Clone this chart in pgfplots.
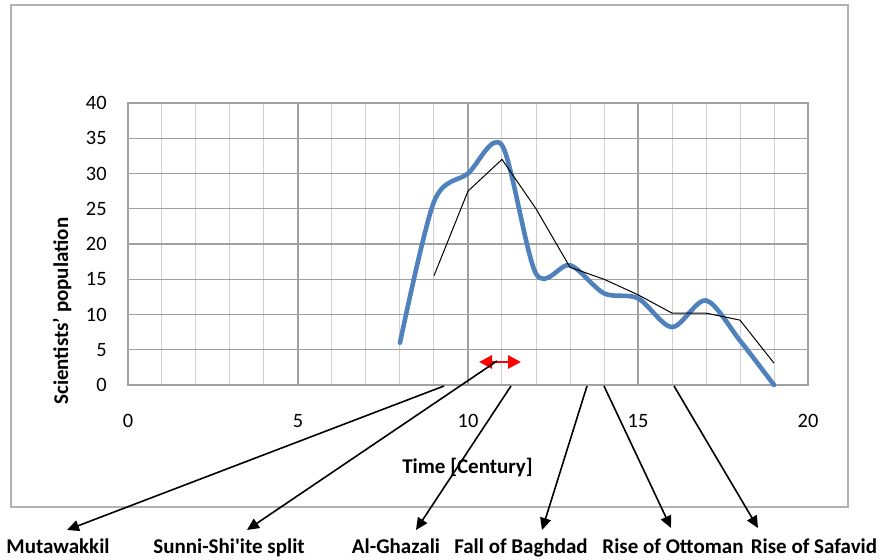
\documentclass[border=0pt]{standalone}
\usepackage{fontspec}
\setmainfont{Carlito}
\usepackage{pgfplots}
\pgfplotsset{compat=1.18}
\usetikzlibrary{arrows.meta}
\definecolor{excelblue}{RGB}{79,129,189}
\definecolor{gridgray}{RGB}{160,160,160}
\definecolor{minorgray}{RGB}{208,208,208}

\begin{document}
\begin{tikzpicture}
% frame and bounding box in pixel units (1 px = 0.5 pt, y downwards)
\begin{scope}[x=0.5pt, y=-0.5pt]
  \useasboundingbox (0,0) rectangle (880,560);
  \draw[gray!60, line width=0.6pt] (11,5) rectangle (848,507);
\end{scope}

\begin{axis}[
    at={(64pt,-192.5pt)},
    anchor=south west,
    scale only axis,
    width=340pt,
    height=141pt,
    xmin=0, xmax=20,
    ymin=0, ymax=40,
    xtick={0,5,10,15,20},
    ytick={0,5,...,40},
    minor xtick={1,...,19},
    xmajorgrids, xminorgrids, ymajorgrids,
    major grid style={gridgray, line width=0.6pt},
    minor grid style={minorgray, line width=0.5pt},
    major tick length=0pt,
    minor tick length=0pt,
    axis line style={gridgray, line width=0.6pt},
    tick label style={font=\fontsize{10.2}{12}\selectfont, /pgf/number format/assume math mode=true},
    xticklabel style={anchor=center, yshift=-18pt},
    yticklabel style={anchor=east, inner sep=0pt, xshift=-10.5pt},
    xlabel={\textbf{Time [Century]}},
    ylabel={\textbf{Scientists’ population}},
    label style={font=\fontsize{10.5}{12}\selectfont},
    xlabel style={at={(axis description cs:0.4993,-0.2908)}, anchor=center},
    ylabel style={at={(axis description cs:-0.097,0.262)}, anchor=center, rotate=0},
    clip=false,
]
\addplot[excelblue, line width=2.3pt, smooth, line join=round, line cap=round] coordinates {
    (8,6) (9,26) (10,30) (11,34) (12,15.8) (13,17) (14,13) (15,12.3)
    (16,8.2) (17,12) (18,6.3) (19,0)
};
\addplot[black, line width=0.5pt] coordinates {
    (9,15.5) (10,27.5) (11,32) (12,25) (13,16.7) (14,15) (15,12.8)
    (16,10.2) (17,10.2) (18,9.2) (19,3.1)
};
\end{axis}

% annotations in pixel units
\begin{scope}[x=0.5pt, y=-0.5pt, font=\fontsize{10.5}{12}\selectfont\bfseries]
  \draw[red, line width=1.4pt, {Triangle[length=6.5pt,width=6.5pt]}-{Triangle[length=6.5pt,width=6.5pt]}] (479,362) -- (521,362);
  \begin{scope}[black, line width=0.8pt, -{Triangle[length=6pt,width=5.5pt]}]
    \draw (444,386) -- (67,530);
    \draw (497,361) -- (247,530);
    \draw (511,386) -- (416,530);
    \draw (587,386) -- (542,530);
    \draw (604,386) -- (671,528);
    \draw (674,386) -- (758,528);
  \end{scope}
  \node[anchor=base, inner sep=1pt] at (58,554) {Mutawakkil};
  \node[anchor=base, inner sep=1pt] at (229,554) {Sunni-Shi\textquotesingle ite split};
  \node[anchor=base, inner sep=1pt] at (396,554) {Al-Ghazali};
  \node[anchor=base, inner sep=1pt] at (521,554) {Fall of Baghdad};
  \node[anchor=base, inner sep=1pt] at (673,554) {Rise of Ottoman};
  \node[anchor=base, inner sep=1pt] at (814,554) {Rise of Safavid};
\end{scope}
\end{tikzpicture}
\end{document}
